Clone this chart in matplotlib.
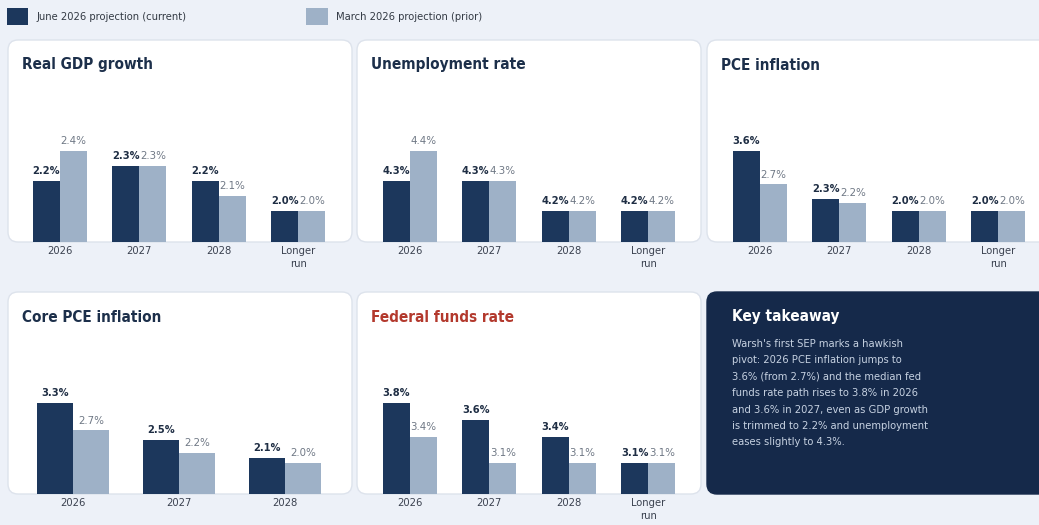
import matplotlib
matplotlib.use("Agg")
import matplotlib.pyplot as plt
from matplotlib import font_manager as fm
from matplotlib.patches import FancyBboxPatch, Rectangle

# ---------------- data ----------------
cats4 = ["2026", "2027", "2028", "Longer\nrun"]
cats3 = ["2026", "2027", "2028"]

gdp_current = [2.2, 2.3, 2.2, 2.0]
gdp_prior = [2.4, 2.3, 2.1, 2.0]
unemp_current = [4.3, 4.3, 4.2, 4.2]
unemp_prior = [4.4, 4.3, 4.2, 4.2]
pce_current = [3.6, 2.3, 2.0, 2.0]
pce_prior = [2.7, 2.2, 2.0, 2.0]
core_current = [3.3, 2.5, 2.1]
core_prior = [2.7, 2.2, 2.0]
ffr_current = [3.8, 3.6, 3.4, 3.1]
ffr_prior = [3.4, 3.1, 3.1, 3.1]

legend_labels = ["June 2026 projection (current)", "March 2026 projection (prior)"]
panel_titles = ["Real GDP growth", "Unemployment rate", "PCE inflation",
                "Core PCE inflation", "Federal funds rate"]
takeaway_title = "Key takeaway"
takeaway_text = ("Warsh's first SEP marks a hawkish\n"
                 "pivot: 2026 PCE inflation jumps to\n"
                 "3.6% (from 2.7%) and the median fed\n"
                 "funds rate path rises to 3.8% in 2026\n"
                 "and 3.6% in 2027, even as GDP growth\n"
                 "is trimmed to 2.2% and unemployment\n"
                 "eases slightly to 4.3%.")

# ---------------- style ----------------
cond = [f for f in fm.fontManager.ttflist if "Condensed" in f.fname and f.name == "DejaVu Sans"]
plt.rcParams["font.family"] = ["DejaVu Sans"]
plt.rcParams["font.stretch"] = "condensed" if cond else "normal"

W, H = 1039, 525
BG = "#edf1f8"
CARD = "#ffffff"
CARD_EDGE = "#dde3ec"
DARK = "#1c375c"
LIGHT = "#9eb1c7"
TITLE_C = "#1c2f4a"
RED_C = "#b3392d"
KEY_BG = "#15294a"
CUR_LBL = "#1f2e44"
PRI_LBL = "#6f7885"
TICK_C = "#3b4250"

fig = plt.figure(figsize=(W / 100, H / 100), dpi=100)
fig.patch.set_facecolor(BG)

bg = fig.add_axes([0, 0, 1, 1])
bg.set_xlim(0, W)
bg.set_ylim(H, 0)
bg.axis("off")
bg.set_zorder(0)


def card(x0, y0, x1, y1, fc, ec):
    p = FancyBboxPatch((x0, y0), x1 - x0, y1 - y0,
                       boxstyle="round,pad=0,rounding_size=10",
                       fc=fc, ec=ec, lw=1.0)
    bg.add_patch(p)


# legend
bg.add_patch(Rectangle((7, 8), 21, 17, fc=DARK, ec="none"))
bg.text(36, 16.5, legend_labels[0], fontsize=8, color="#333a44", va="center", ha="left")
bg.add_patch(Rectangle((306, 8), 22, 17, fc=LIGHT, ec="none"))
bg.text(336, 16.5, legend_labels[1], fontsize=8, color="#333a44", va="center", ha="left")

col_x = [8, 357, 707]
row_y = [(40, 242), (292, 494)]

panels = [
    (0, 0, panel_titles[0], cats4, gdp_current, gdp_prior, TITLE_C),
    (0, 1, panel_titles[1], cats4, unemp_current, unemp_prior, TITLE_C),
    (0, 2, panel_titles[2], cats4, pce_current, pce_prior, TITLE_C),
    (1, 0, panel_titles[3], cats3, core_current, core_prior, TITLE_C),
    (1, 1, panel_titles[4], cats4, ffr_current, ffr_prior, RED_C),
]

for r, c, title, cats, cur, pri, tcol in panels:
    x0 = col_x[c]
    ytop, ybot = row_y[r]
    card(x0, ytop, x0 + 344 if c < 2 else W + 20, ybot, CARD, CARD_EDGE)
    bg.text(x0 + 14, ytop + 25, title, fontsize=11, fontweight="bold",
            color=tcol, va="center", ha="left")

    ax_l = x0 + 12 if c == 0 else x0 + 13
    ax_r = ax_l + 318
    ax_b = ybot
    ax_t = ybot - 132
    ax = fig.add_axes([ax_l / W, 1 - ax_b / H, (ax_r - ax_l) / W, (ax_b - ax_t) / H])
    ax.set_zorder(2)
    ax.patch.set_visible(False)
    for s in ax.spines.values():
        s.set_visible(False)

    allv = cur + pri
    lo_v, hi_v = min(allv), max(allv)
    rng = hi_v - lo_v
    lo = lo_v - (31.5 / 59.5) * rng
    hi = lo + (132 / 59.5) * rng
    ax.set_ylim(lo, hi)
    n = len(cats)
    ax.set_xlim(-0.5, n - 0.5)
    xs = list(range(n))
    bw = 0.34
    ax.bar([x - bw / 2 for x in xs], [v - lo for v in cur], bw, bottom=lo,
           color=DARK, edgecolor="none")
    ax.bar([x + bw / 2 for x in xs], [v - lo for v in pri], bw, bottom=lo,
           color=LIGHT, edgecolor="none")
    for x, v in zip(xs, cur):
        ax.annotate(f"{v:.1f}%", (x - bw / 2, v), xytext=(0, 3.5), textcoords="offset points",
                    ha="center", va="bottom", fontsize=7.9, fontweight="bold", color=CUR_LBL)
    for x, v in zip(xs, pri):
        ax.annotate(f"{v:.1f}%", (x + bw / 2, v), xytext=(0, 3.5), textcoords="offset points",
                    ha="center", va="bottom", fontsize=8.2, color=PRI_LBL)
    ax.set_xticks(xs)
    ax.set_xticklabels(cats, fontsize=8, color=TICK_C, linespacing=1.3)
    ax.tick_params(axis="x", length=0, pad=3)
    ax.set_yticks([])

# key takeaway card
card(707, 292, W + 20, 494, KEY_BG, KEY_BG)
bg.text(732, 317, takeaway_title, fontsize=11, fontweight="bold", color="white",
        va="center", ha="left")
bg.text(732, 339, takeaway_text, fontsize=8, color="#c6d1e1", va="top", ha="left",
        linespacing=1.8)

fig.savefig("out.png", dpi=100, facecolor=BG)
